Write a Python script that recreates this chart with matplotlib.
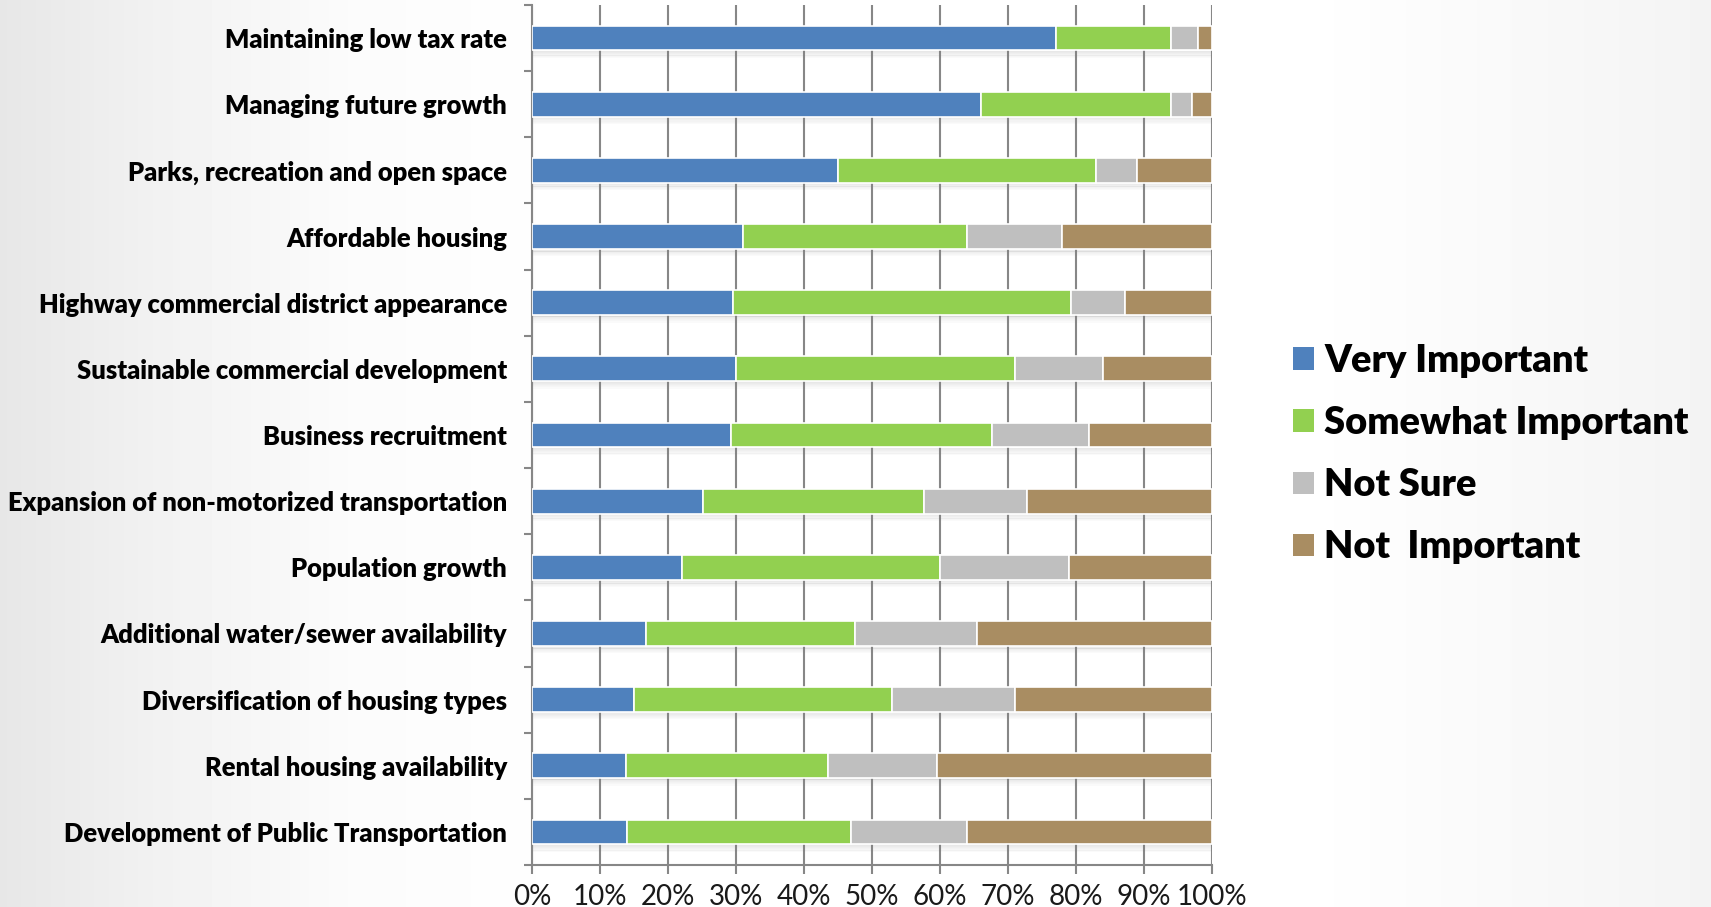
import numpy as np
import matplotlib.pyplot as plt
from matplotlib.patches import Patch
from matplotlib.ticker import MultipleLocator, FixedLocator, PercentFormatter

# Kategorien von oben nach unten
categories = [
    "Maintaining low tax rate",
    "Managing future growth",
    "Parks, recreation and open space",
    "Affordable housing",
    "Highway commercial district appearance",
    "Sustainable commercial development",
    "Business recruitment",
    "Expansion of non-motorized transportation",
    "Population growth",
    "Additional water/sewer availability",
    "Diversification of housing types",
    "Rental housing availability",
    "Development of Public Transportation",
]

# Anteile in Prozent
very_important = [77.0, 66.0, 45.0, 31.0, 29.6, 30.0, 29.2, 25.1, 22.0, 16.7, 15.0, 13.8, 13.9]
somewhat_important = [17.0, 28.0, 38.0, 33.0, 49.7, 41.0, 38.5, 32.5, 38.0, 30.8, 38.0, 29.7, 33.0]
not_sure = [4.0, 3.0, 6.0, 14.0, 7.9, 13.0, 14.2, 15.2, 19.0, 17.9, 18.0, 16.0, 17.1]
not_important = [2.0, 3.0, 11.0, 22.0, 12.8, 16.0, 18.1, 27.2, 21.0, 34.6, 29.0, 40.5, 36.0]

series_names = ["Very Important", "Somewhat Important", "Not Sure", "Not  Important"]
series_colors = ["#4F81BD", "#92D050", "#BFBFBF", "#A98D62"]

label_font = "Lato"

fig = plt.figure(figsize=(17.11, 9.07), dpi=100)

# Hintergrund mit leichtem Verlauf (links grau, Mitte weiss)
bg = fig.add_axes([0, 0, 1, 1], zorder=-10)
xs = np.linspace(0, 1711, 400)
vals = np.interp(xs, [0, 150, 350, 600, 1300, 1711], [0.905, 0.945, 0.985, 1.0, 1.0, 0.955])
bg.imshow(np.tile(vals, (2, 1)), cmap="gray", vmin=0, vmax=1, aspect="auto",
          extent=[0, 1, 0, 1], interpolation="bilinear")
bg.set_axis_off()

ax = fig.add_axes([532 / 1711, 1 - 865 / 907, 680 / 1711, 860 / 907])
ax.set_facecolor("none")

y = np.arange(len(categories))
bar_h = 0.375

# Schatten unter den Balken
for i in range(6):
    ax.barh(y + bar_h / 2 + 0.012 + i * 0.018, 100, height=0.02, left=0,
            color="#808080", alpha=0.18 - i * 0.028, linewidth=0, zorder=1.5)

data = [very_important, somewhat_important, not_sure, not_important]
left = np.zeros(len(categories))
for vals_s, name, col in zip(data, series_names, series_colors):
    ax.barh(y, vals_s, height=bar_h, left=left, color=col, edgecolor="white",
            linewidth=1.2, label=name, zorder=3)
    left += np.array(vals_s)

ax.set_xlim(0, 100)
ax.set_ylim(len(categories) - 0.5, -0.5)

ax.xaxis.set_major_locator(MultipleLocator(10))
ax.xaxis.set_major_formatter(PercentFormatter(decimals=0))
ax.grid(axis="x", color="#878787", linewidth=1.5, zorder=1)
ax.set_axisbelow(True)

ax.set_yticks(y)
ax.set_yticklabels(categories)
ax.yaxis.set_minor_locator(FixedLocator(np.arange(-0.5, len(categories), 1)))
ax.tick_params(axis="y", which="major", length=0, pad=18)
ax.tick_params(axis="y", which="minor", length=6, width=1.5, color="#878787")
ax.tick_params(axis="x", which="major", length=6.5, width=1.5, color="#878787", pad=7,
               labelsize=20)

for lab in ax.get_yticklabels():
    lab.set_fontfamily(label_font)
    lab.set_fontweight("heavy")
    lab.set_fontsize(18.4)
for lab in ax.get_xticklabels():
    lab.set_fontfamily(label_font)
    lab.set_color("#1a1a1a")

for side in ["top", "right"]:
    ax.spines[side].set_visible(False)
for side in ["left", "bottom"]:
    ax.spines[side].set_color("#878787")
    ax.spines[side].set_linewidth(1.5)

handles = [Patch(facecolor=c, edgecolor="none") for c in series_colors]
leg = fig.legend(handles, series_names, loc="upper left",
                 bbox_to_anchor=(1293 / 1711, 1 - 344 / 907), frameon=False,
                 borderpad=0, borderaxespad=0, handlelength=0.54, handleheight=0.54,
                 handletextpad=0.28, labelspacing=0.74,
                 prop={"family": label_font, "weight": "heavy", "size": 27.4})

fig.savefig("out.png", dpi=100)
